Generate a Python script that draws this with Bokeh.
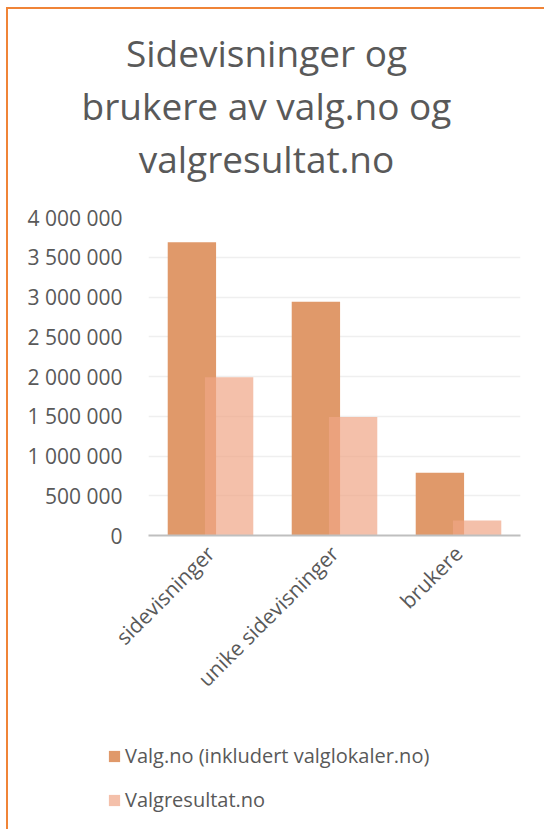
import math
from bokeh.plotting import figure
from bokeh.layouts import column, row
from bokeh.models import (FactorRange, ColumnDataSource, Legend, LegendItem,
                          FixedTicker, Title, Range1d)
from bokeh.transform import dodge
from bokeh.embed import file_html
from bokeh.resources import INLINE

categories = ["sidevisninger", "unike sidevisninger", "brukere"]
valg_no = [3690000, 2940000, 790000]
valgresultat_no = [1990000, 1490000, 190000]
series_names = ["Valg.no (inkludert valglokaler.no)", "Valgresultat.no"]
y_ticks = [0, 500000, 1000000, 1500000, 2000000, 2500000, 3000000, 3500000, 4000000]
y_labels = ["0", "500 000", "1 000 000", "1 500 000", "2 000 000",
            "2 500 000", "3 000 000", "3 500 000", "4 000 000"]
title_lines = ["Sidevisninger og", "brukere av valg.no og", "valgresultat.no"]

FONT = "Open Sans"
TXT = "#595959"
C1 = "#E0996A"
C2 = "#EFA586"
A2 = 0.7
W = 536


def blank(fig):
    fig.axis.visible = False
    fig.grid.grid_line_color = None
    fig.outline_line_color = None
    fig.background_fill_color = "white"
    fig.border_fill_color = "white"


# ---- title figure ----
tfig = figure(width=W, height=192, x_range=Range1d(0, 1), y_range=Range1d(0, 1),
              output_backend="svg", toolbar_location=None,
              min_border_left=0, min_border_right=20, min_border_top=174,
              min_border_bottom=0)
tfig.title = None
blank(tfig)
for line in reversed(title_lines):
    tfig.add_layout(Title(text=line, align="center", text_font=FONT,
                          text_font_size="37px", text_font_style="normal",
                          text_color=TXT, standoff=0), "above")

# ---- main chart ----
src = ColumnDataSource(dict(cat=categories, v1=valg_no, v2=valgresultat_no))
p = figure(width=W, height=538, x_range=FactorRange(*categories, range_padding=0),
           y_range=(0, 4000000), output_backend="svg", toolbar_location=None,
           min_border_left=140, min_border_right=24, min_border_top=16,
           min_border_bottom=204)
p.title = None
p.outline_line_color = None
p.background_fill_color = "white"
p.border_fill_color = "white"

p.vbar(x=dodge("cat", -0.15, range=p.x_range), top="v1", width=0.39,
       source=src, fill_color=C1, line_color=None)
p.vbar(x=dodge("cat", 0.15, range=p.x_range), top="v2", width=0.39,
       source=src, fill_color=C2, fill_alpha=A2, line_color=None)

p.xgrid.grid_line_color = None
p.ygrid.grid_line_color = "#EFEFEF"
p.ygrid.grid_line_width = 1.5

p.yaxis.ticker = FixedTicker(ticks=y_ticks)
p.yaxis.major_label_overrides = {tk: lb for tk, lb in zip(y_ticks, y_labels)}
p.yaxis.axis_line_color = None
p.yaxis.major_tick_line_color = None
p.yaxis.minor_tick_line_color = None
p.yaxis.major_label_text_font = FONT
p.yaxis.major_label_text_font_size = "21px"
p.yaxis.major_label_text_color = TXT
p.yaxis.major_label_standoff = 20

p.xaxis.axis_line_color = "#BFBFBF"
p.xaxis.axis_line_width = 2
p.xaxis.major_tick_line_color = None
p.xaxis.minor_tick_line_color = None
p.xaxis.major_label_orientation = math.pi / 4
p.xaxis.major_label_text_font = FONT
p.xaxis.major_label_text_font_size = "21px"
p.xaxis.major_label_text_color = TXT
p.xaxis.major_label_standoff = 8

# ---- legend figure ----
lf = figure(width=W, height=90, x_range=Range1d(0, 1), y_range=Range1d(0, 1),
            output_backend="svg", toolbar_location=None,
            min_border_left=0, min_border_right=0, min_border_top=0,
            min_border_bottom=0)
lf.title = None
blank(lf)
# zero-height swatch renderers, only used to draw the legend squares
dummy = ColumnDataSource(dict(x=[0.5], top=[0]))
lr1 = lf.vbar(x="x", top="top", width=0.1, source=dummy, fill_color=C1, line_color=None)
lr2 = lf.vbar(x="x", top="top", width=0.1, source=dummy, fill_color=C2,
              fill_alpha=A2, line_color=None)
legend = Legend(items=[LegendItem(label=series_names[0], renderers=[lr1]),
                       LegendItem(label=series_names[1], renderers=[lr2])],
                location=(99, 16), orientation="vertical",
                glyph_width=14, glyph_height=14, label_height=14, label_standoff=4,
                label_text_font=FONT, label_text_font_size="20px",
                label_text_color=TXT, spacing=17, padding=0, margin=0,
                border_line_color=None, background_fill_alpha=0)
lf.add_layout(legend, "center")

layout = column(row(tfig), p, row(lf), spacing=0)
layout.styles = {"border-left": "2px solid #F08437", "border-top": "2px solid #F08437",
                 "margin-left": "6px", "margin-top": "7px"}

open("out.html", "w").write(file_html(layout, INLINE))
